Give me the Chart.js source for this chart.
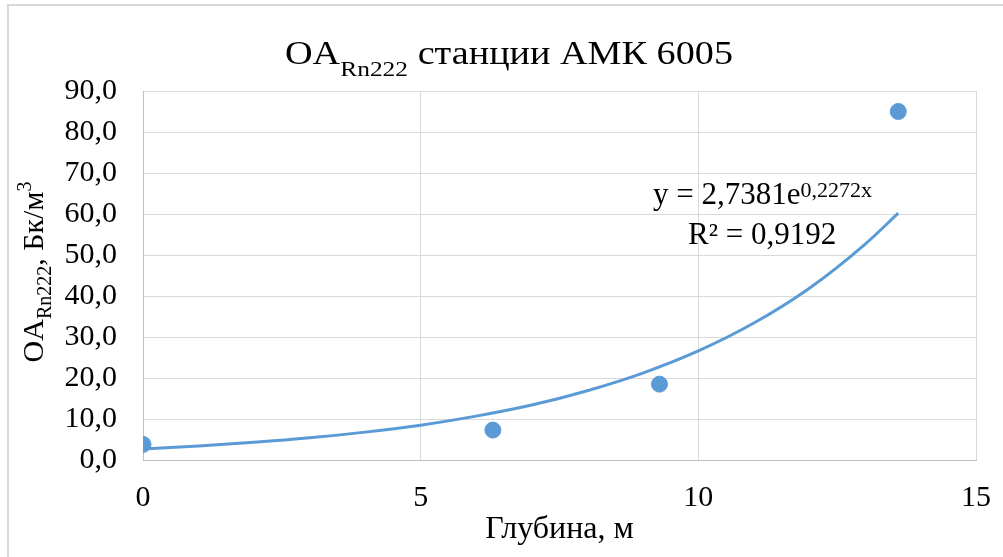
<!DOCTYPE html>
<html>
<head>
<meta charset="utf-8">
<script src="https://cdn.jsdelivr.net/npm/chart.js@4.4.0/dist/chart.umd.min.js"></script>
<style>
  html, body { margin: 0; padding: 0; background: #fff; }
  #wrap { width: 1003px; height: 557px; position: relative; }
</style>
</head>
<body>
<div id="wrap"><canvas id="chart"></canvas></div>
<script>
// measured points: depth (m) vs volume activity Rn222 (Bq/m3)
var depth = [0, 6.3, 9.3, 13.6];
var activity = [3.8, 7.3, 18.5, 85.0];

// exponential trendline
var trendX = [0, 1, 2, 3, 4, 5, 6, 7, 8, 9, 10, 11, 12, 13, 13.6];
var trendY = [2.7, 3.4, 4.3, 5.4, 6.8, 8.5, 10.7, 13.4, 16.9, 21.2, 26.6, 33.4, 41.9, 52.6, 60.2];

var xTicks = [0, 5, 10, 15];
var yTicks = [0, 10, 20, 30, 40, 50, 60, 70, 80, 90];

var BLUE = '#5b9bd5';
var GRID = '#d9d9d9';
var FONT = '"Liberation Serif", "Times New Roman", serif';

// draws a run of text pieces (normal / sub / sup)
function richText(ctx, parts, x, y, align, stretchTo) {
  var total = 0;
  parts.forEach(function(p) {
    ctx.font = p.size + 'px ' + FONT;
    p.w = ctx.measureText(p.t).width;
    total += p.w;
  });
  var sx = stretchTo ? stretchTo / total : 1;
  ctx.save();
  ctx.translate(x, y);
  ctx.scale(sx, 1);
  var cx = align === 'center' ? -total / 2 : 0;
  ctx.textAlign = 'left';
  ctx.textBaseline = 'alphabetic';
  parts.forEach(function(p) {
    ctx.font = p.size + 'px ' + FONT;
    ctx.fillText(p.t, cx, p.dy || 0);
    cx += p.w;
  });
  ctx.restore();
}

var textPlugin = {
  id: 'texts',
  afterDraw: function(chart) {
    var ctx = chart.ctx;
    ctx.save();
    // chart frame (only top and left edges fall inside the picture)
    ctx.strokeStyle = GRID;
    ctx.lineWidth = 2;
    ctx.beginPath();
    ctx.moveTo(8, 557);
    ctx.lineTo(8, 5);
    ctx.lineTo(1003, 5);
    ctx.stroke();
    ctx.fillStyle = '#000';

    // title
    richText(ctx, [
      { t: 'OA', size: 33 },
      { t: 'Rn222', size: 22, dy: 12 },
      { t: ' станции АМК 6005', size: 33 }
    ], 509, 64, 'center', 448);

    // y axis title
    ctx.save();
    ctx.translate(43, 272);
    ctx.rotate(-Math.PI / 2);
    richText(ctx, [
      { t: 'OA', size: 30 },
      { t: 'Rn222', size: 20, dy: 8 },
      { t: ', Бк/м', size: 30 },
      { t: '3', size: 20, dy: -12 }
    ], 0, 0, 'center');
    ctx.restore();

    // trendline equation
    richText(ctx, [
      { t: 'y = 2,7381e', size: 31 },
      { t: '0,2272x', size: 22, dy: -7 }
    ], 653, 204, 'left');
    richText(ctx, [
      { t: 'R² = 0,9192', size: 31 }
    ], 688, 244, 'left');
    ctx.restore();
  }
};

new Chart(document.getElementById('chart'), {
  type: 'scatter',
  data: {
    datasets: [
      {
        label: 'Тренд',
        type: 'line',
        data: trendX.map(function(x, i) { return { x: x, y: trendY[i] }; }),
        borderColor: BLUE,
        borderWidth: 3,
        pointRadius: 0,
        cubicInterpolationMode: 'monotone',
        fill: false,
        order: 1
      },
      {
        label: 'ОА Rn222',
        data: depth.map(function(x, i) { return { x: x, y: activity[i] }; }),
        backgroundColor: BLUE,
        borderColor: BLUE,
        pointRadius: 8,
        order: 0
      }
    ]
  },
  options: {
    responsive: true,
    maintainAspectRatio: false,
    animation: false,
    layout: { padding: { left: 0, right: 27, top: 91, bottom: 0 } },
    plugins: { legend: { display: false }, tooltip: { enabled: false } },
    scales: {
      x: {
        type: 'linear',
        min: xTicks[0],
        max: xTicks[xTicks.length - 1],
        afterBuildTicks: function(s) { s.ticks = xTicks.map(function(v) { return { value: v }; }); },
        afterFit: function(s) { s.height = 97; s.paddingLeft = 0; s.paddingRight = 0; },
        ticks: { color: '#000', font: { family: FONT, size: 30 }, padding: 20 },
        grid: { color: GRID, drawTicks: false },
        border: { color: '#bfbfbf' },
        title: { display: true, text: 'Глубина, м', color: '#000', font: { family: FONT, size: 32 }, padding: { bottom: 8 } }
      },
      y: {
        min: yTicks[0],
        max: yTicks[yTicks.length - 1],
        afterBuildTicks: function(s) { s.ticks = yTicks.map(function(v) { return { value: v }; }); },
        afterFit: function(s) { s.width = 143; s.paddingTop = 0; s.paddingBottom = 0; },
        ticks: {
          color: '#000',
          font: { family: FONT, size: 30 },
          padding: 26,
          callback: function(v) { return v.toFixed(1).replace('.', ','); }
        },
        grid: { color: GRID, drawTicks: false },
        border: { color: '#bfbfbf' }
      }
    }
  },
  plugins: [textPlugin]
});
</script>
</body>
</html>
